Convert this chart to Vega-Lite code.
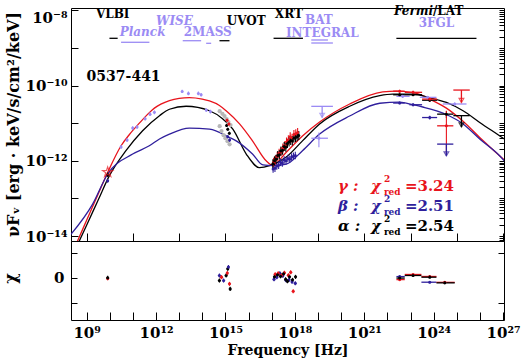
{
  "$schema": "https://vega.github.io/schema/vega-lite/v6.json",
  "padding": {"left": 1, "top": 4, "right": 2, "bottom": 1},
  "background": "white",
  "spacing": 0,
  "bounds": "flush",
  "config": {
    "view": {"stroke": "black", "strokeWidth": 1},
    "font": "DejaVu Serif",
    "axis": {"domain": false, "grid": false, "tickColor": "black", "labelColor": "black", "titleColor": "black", "labelFont": "DejaVu Serif", "labelFontWeight": "bold", "titleFont": "DejaVu Serif", "titleFontWeight": "bold", "labelFontSize": 15, "titleFontSize": 14, "tickWidth": 1, "labelOverlap": false}
  },
  "datasets": {
    "curves": [
      {"model":"gamma","lognu":8.55,"logflux":-14.21},{"model":"gamma","lognu":9.0,"logflux":-13.58},{"model":"gamma","lognu":9.5,"logflux":-12.88},{"model":"gamma","lognu":9.91,"logflux":-12.31},{"model":"gamma","lognu":10.49,"logflux":-11.60},{"model":"gamma","lognu":10.85,"logflux":-11.30},{"model":"gamma","lognu":11.28,"logflux":-11.00},{"model":"gamma","lognu":11.71,"logflux":-10.72},{"model":"gamma","lognu":11.93,"logflux":-10.60},{"model":"gamma","lognu":12.58,"logflux":-10.40},{"model":"gamma","lognu":13.0,"logflux":-10.34},{"model":"gamma","lognu":13.44,"logflux":-10.32},{"model":"gamma","lognu":14.0,"logflux":-10.36},{"model":"gamma","lognu":14.31,"logflux":-10.41},{"model":"gamma","lognu":14.74,"logflux":-10.53},{"model":"gamma","lognu":15.03,"logflux":-10.67},{"model":"gamma","lognu":15.61,"logflux":-11.02},{"model":"gamma","lognu":16.17,"logflux":-11.47},{"model":"gamma","lognu":16.76,"logflux":-12.00},{"model":"gamma","lognu":17.04,"logflux":-12.12},{"model":"gamma","lognu":17.63,"logflux":-11.77},{"model":"gamma","lognu":18.33,"logflux":-11.34},{"model":"gamma","lognu":19.07,"logflux":-10.97},{"model":"gamma","lognu":20.37,"logflux":-10.49},{"model":"gamma","lognu":21.80,"logflux":-10.17},{"model":"gamma","lognu":22.40,"logflux":-10.15},{"model":"gamma","lognu":23.11,"logflux":-10.19},{"model":"gamma","lognu":23.5,"logflux":-10.26},{"model":"gamma","lognu":23.83,"logflux":-10.36},{"model":"gamma","lognu":24.55,"logflux":-10.60},{"model":"gamma","lognu":25.27,"logflux":-10.95},{"model":"gamma","lognu":25.99,"logflux":-11.38},{"model":"gamma","lognu":26.86,"logflux":-11.87},{"model":"gamma","lognu":27.1,"logflux":-12.0},
      {"model":"alpha","lognu":8.60,"logflux":-14.24},{"model":"alpha","lognu":9.0,"logflux":-13.71},{"model":"alpha","lognu":9.5,"logflux":-13.04},{"model":"alpha","lognu":9.98,"logflux":-12.40},{"model":"alpha","lognu":10.70,"logflux":-11.73},{"model":"alpha","lognu":11.42,"logflux":-11.20},{"model":"alpha","lognu":12.15,"logflux":-10.80},{"model":"alpha","lognu":12.58,"logflux":-10.63},{"model":"alpha","lognu":13.30,"logflux":-10.55},{"model":"alpha","lognu":14.31,"logflux":-10.67},{"model":"alpha","lognu":14.89,"logflux":-10.89},{"model":"alpha","lognu":15.32,"logflux":-11.16},{"model":"alpha","lognu":15.90,"logflux":-11.82},{"model":"alpha","lognu":16.47,"logflux":-12.18},{"model":"alpha","lognu":16.91,"logflux":-12.13},{"model":"alpha","lognu":17.63,"logflux":-11.90},{"model":"alpha","lognu":18.33,"logflux":-11.47},{"model":"alpha","lognu":19.07,"logflux":-11.02},{"model":"alpha","lognu":20.37,"logflux":-10.55},{"model":"alpha","lognu":21.67,"logflux":-10.27},{"model":"alpha","lognu":22.23,"logflux":-10.23},{"model":"alpha","lognu":23.11,"logflux":-10.23},{"model":"alpha","lognu":23.8,"logflux":-10.32},{"model":"alpha","lognu":24.55,"logflux":-10.45},{"model":"alpha","lognu":25.27,"logflux":-10.67},{"model":"alpha","lognu":25.99,"logflux":-10.98},{"model":"alpha","lognu":26.86,"logflux":-11.34},{"model":"alpha","lognu":27.1,"logflux":-11.44},
      {"model":"beta","lognu":8.30,"logflux":-13.97},{"model":"beta","lognu":9.26,"logflux":-13.15},{"model":"beta","lognu":9.91,"logflux":-12.35},{"model":"beta","lognu":10.99,"logflux":-11.82},{"model":"beta","lognu":11.71,"logflux":-11.60},{"model":"beta","lognu":12.15,"logflux":-11.42},{"model":"beta","lognu":12.58,"logflux":-11.29},{"model":"beta","lognu":13.44,"logflux":-11.13},{"model":"beta","lognu":14.31,"logflux":-11.16},{"model":"beta","lognu":15.175,"logflux":-11.38},{"model":"beta","lognu":15.465,"logflux":-11.47},{"model":"beta","lognu":16.17,"logflux":-11.82},{"model":"beta","lognu":16.62,"logflux":-12.11},{"model":"beta","lognu":17.04,"logflux":-12.13},{"model":"beta","lognu":17.63,"logflux":-12.09},{"model":"beta","lognu":18.33,"logflux":-11.73},{"model":"beta","lognu":19.07,"logflux":-11.29},{"model":"beta","lognu":20.37,"logflux":-10.81},{"model":"beta","lognu":21.67,"logflux":-10.47},{"model":"beta","lognu":22.53,"logflux":-10.44},{"model":"beta","lognu":23.11,"logflux":-10.51},{"model":"beta","lognu":23.53,"logflux":-10.57},{"model":"beta","lognu":24.55,"logflux":-10.77},{"model":"beta","lognu":25.27,"logflux":-11.02},{"model":"beta","lognu":25.99,"logflux":-11.42},{"model":"beta","lognu":26.86,"logflux":-11.87},{"model":"beta","lognu":27.1,"logflux":-12.03}
    ],
    "sed": [
      {"src":"gamma","kind":"star","x":9.91,"y":-12.30},
      {"src":"alpha","kind":"pt","x":9.91,"y":-12.37,"ylo":-12.43,"yhi":-12.31},
      {"src":"beta","kind":"pt","x":9.91,"y":-12.53,"ylo":-12.58,"yhi":-12.48},
      {"src":"arch","kind":"pt","x":10.49,"y":-11.63,"ylo":-11.68,"yhi":-11.58},
      {"src":"arch","kind":"pt","x":10.75,"y":-11.45,"ylo":-11.50,"yhi":-11.40},
      {"src":"arch","kind":"pt","x":10.99,"y":-11.13,"ylo":-11.18,"yhi":-11.08},
      {"src":"arch","kind":"pt","x":11.18,"y":-11.10,"ylo":-11.15,"yhi":-11.05},
      {"src":"arch","kind":"pt","x":11.53,"y":-10.88,"ylo":-10.93,"yhi":-10.83},
      {"src":"arch","kind":"pt","x":11.74,"y":-10.76,"ylo":-10.81,"yhi":-10.71},
      {"src":"arch","kind":"pt","x":11.93,"y":-10.71,"ylo":-10.76,"yhi":-10.66},
      {"src":"arch","kind":"pt","x":13.13,"y":-10.155,"ylo":-10.20,"yhi":-10.11},
      {"src":"arch","kind":"pt","x":13.40,"y":-10.21,"ylo":-10.26,"yhi":-10.16},
      {"src":"arch","kind":"pt","x":13.83,"y":-10.21,"ylo":-10.26,"yhi":-10.16},
      {"src":"arch","kind":"pt","x":13.95,"y":-10.245,"ylo":-10.29,"yhi":-10.20},
      {"src":"arch","kind":"pt","x":14.17,"y":-10.65,"ylo":-10.70,"yhi":-10.60},
      {"src":"arch","kind":"pt","x":14.35,"y":-10.69,"ylo":-10.74,"yhi":-10.64},
      {"src":"grey","kind":"pt","x":14.75,"y":-10.68},{"src":"grey","kind":"pt","x":14.87,"y":-10.75},{"src":"grey","kind":"pt","x":14.96,"y":-10.81},{"src":"grey","kind":"pt","x":15.05,"y":-10.89},{"src":"grey","kind":"pt","x":15.13,"y":-10.97},{"src":"grey","kind":"pt","x":15.22,"y":-11.05},
      {"src":"grey","kind":"pt","x":14.75,"y":-11.08},{"src":"grey","kind":"pt","x":14.83,"y":-11.21},{"src":"grey","kind":"pt","x":14.92,"y":-11.32},{"src":"grey","kind":"pt","x":15.00,"y":-11.40},{"src":"grey","kind":"pt","x":15.09,"y":-11.48},{"src":"grey","kind":"pt","x":15.18,"y":-11.56},
      {"src":"alpha","kind":"pt","x":15.05,"y":-11.06,"ylo":-11.10,"yhi":-11.02},
      {"src":"alpha","kind":"pt","x":15.10,"y":-11.16,"ylo":-11.20,"yhi":-11.12},
      {"src":"alpha","kind":"pt","x":15.17,"y":-11.27,"ylo":-11.31,"yhi":-11.23},
      {"src":"gamma","kind":"pt","x":15.07,"y":-10.92,"ylo":-10.96,"yhi":-10.88},
      {"src":"gamma","kind":"pt","x":15.15,"y":-11.02,"ylo":-11.06,"yhi":-10.98},
      {"src":"beta","kind":"pt","x":15.10,"y":-11.36,"ylo":-11.40,"yhi":-11.32},
      {"src":"beta","kind":"pt","x":15.18,"y":-11.45,"ylo":-11.49,"yhi":-11.41},
      {"src":"beta","kind":"pt","x":17.06,"y":-12.22,"ylo":-12.32,"yhi":-12.12},
      {"src":"beta","kind":"pt","x":17.14,"y":-12.20,"ylo":-12.30,"yhi":-12.10},
      {"src":"beta","kind":"pt","x":17.22,"y":-12.14,"ylo":-12.24,"yhi":-12.04},
      {"src":"beta","kind":"pt","x":17.30,"y":-12.12,"ylo":-12.22,"yhi":-12.02},
      {"src":"beta","kind":"pt","x":17.38,"y":-12.04,"ylo":-12.14,"yhi":-11.94},
      {"src":"beta","kind":"pt","x":17.46,"y":-12.06,"ylo":-12.16,"yhi":-11.96},
      {"src":"beta","kind":"pt","x":17.54,"y":-11.98,"ylo":-12.08,"yhi":-11.88},
      {"src":"beta","kind":"pt","x":17.62,"y":-12.00,"ylo":-12.10,"yhi":-11.90},
      {"src":"beta","kind":"pt","x":17.70,"y":-11.94,"ylo":-12.04,"yhi":-11.84},
      {"src":"beta","kind":"pt","x":17.78,"y":-11.96,"ylo":-12.06,"yhi":-11.86},
      {"src":"beta","kind":"pt","x":17.86,"y":-11.90,"ylo":-12.00,"yhi":-11.80},
      {"src":"beta","kind":"pt","x":17.94,"y":-11.88,"ylo":-11.98,"yhi":-11.78},
      {"src":"beta","kind":"pt","x":18.02,"y":-11.86,"ylo":-11.96,"yhi":-11.76},
      {"src":"gamma","kind":"pt","x":17.08,"y":-12.04,"ylo":-12.16,"yhi":-11.92},
      {"src":"gamma","kind":"pt","x":17.16,"y":-11.97,"ylo":-12.09,"yhi":-11.85},
      {"src":"gamma","kind":"pt","x":17.24,"y":-11.88,"ylo":-12.00,"yhi":-11.76},
      {"src":"gamma","kind":"pt","x":17.32,"y":-11.80,"ylo":-11.92,"yhi":-11.68},
      {"src":"gamma","kind":"pt","x":17.40,"y":-11.76,"ylo":-11.88,"yhi":-11.64},
      {"src":"gamma","kind":"pt","x":17.48,"y":-11.66,"ylo":-11.78,"yhi":-11.54},
      {"src":"gamma","kind":"pt","x":17.56,"y":-11.60,"ylo":-11.72,"yhi":-11.48},
      {"src":"gamma","kind":"pt","x":17.64,"y":-11.50,"ylo":-11.62,"yhi":-11.38},
      {"src":"gamma","kind":"pt","x":17.72,"y":-11.44,"ylo":-11.56,"yhi":-11.32},
      {"src":"gamma","kind":"pt","x":17.80,"y":-11.36,"ylo":-11.48,"yhi":-11.24},
      {"src":"gamma","kind":"pt","x":17.88,"y":-11.40,"ylo":-11.52,"yhi":-11.28},
      {"src":"gamma","kind":"pt","x":17.96,"y":-11.30,"ylo":-11.42,"yhi":-11.18},
      {"src":"gamma","kind":"pt","x":18.04,"y":-11.28,"ylo":-11.40,"yhi":-11.16},
      {"src":"gamma","kind":"pt","x":18.12,"y":-11.25,"ylo":-11.37,"yhi":-11.13},
      {"src":"alpha","kind":"pt","x":17.05,"y":-12.08,"ylo":-12.20,"yhi":-11.96},
      {"src":"alpha","kind":"pt","x":17.12,"y":-12.00,"ylo":-12.12,"yhi":-11.88},
      {"src":"alpha","kind":"pt","x":17.19,"y":-11.96,"ylo":-12.08,"yhi":-11.84},
      {"src":"alpha","kind":"pt","x":17.26,"y":-11.86,"ylo":-11.98,"yhi":-11.74},
      {"src":"alpha","kind":"pt","x":17.33,"y":-11.84,"ylo":-11.96,"yhi":-11.72},
      {"src":"alpha","kind":"pt","x":17.40,"y":-11.74,"ylo":-11.86,"yhi":-11.62},
      {"src":"alpha","kind":"pt","x":17.47,"y":-11.72,"ylo":-11.84,"yhi":-11.60},
      {"src":"alpha","kind":"pt","x":17.54,"y":-11.62,"ylo":-11.74,"yhi":-11.50},
      {"src":"alpha","kind":"pt","x":17.61,"y":-11.64,"ylo":-11.76,"yhi":-11.52},
      {"src":"alpha","kind":"pt","x":17.68,"y":-11.54,"ylo":-11.66,"yhi":-11.42},
      {"src":"alpha","kind":"pt","x":17.75,"y":-11.50,"ylo":-11.62,"yhi":-11.38},
      {"src":"alpha","kind":"pt","x":17.82,"y":-11.46,"ylo":-11.58,"yhi":-11.34},
      {"src":"alpha","kind":"pt","x":17.89,"y":-11.47,"ylo":-11.59,"yhi":-11.35},
      {"src":"alpha","kind":"pt","x":17.96,"y":-11.40,"ylo":-11.52,"yhi":-11.28},
      {"src":"alpha","kind":"pt","x":18.03,"y":-11.38,"ylo":-11.50,"yhi":-11.26},
      {"src":"alpha","kind":"pt","x":18.10,"y":-11.36,"ylo":-11.48,"yhi":-11.24},
      {"src":"alpha","kind":"pt","x":18.17,"y":-11.33,"ylo":-11.45,"yhi":-11.21},
      {"src":"arch","kind":"ul","x":19.18,"xlo":18.71,"xhi":19.645,"y":-10.553,"yend":-10.846},
      {"src":"arch","kind":"pt","x":19.04,"xlo":18.71,"xhi":19.43,"y":-11.40,"ylo":-11.64,"yhi":-11.245},
      {"src":"arch","kind":"pt","x":22.66,"xlo":22.39,"xhi":22.96,"y":-10.287,"ylo":-10.33,"yhi":-10.25},
      {"src":"arch","kind":"pt","x":23.74,"xlo":23.4,"xhi":24.12,"y":-10.314,"ylo":-10.35,"yhi":-10.28},
      {"src":"arch","kind":"pt","x":24.91,"xlo":24.39,"xhi":25.42,"y":-10.49,"ylo":-10.53,"yhi":-10.45},
      {"src":"beta","kind":"pt","x":22.53,"xlo":22.25,"xhi":22.75,"y":-10.465,"ylo":-10.50,"yhi":-10.43},
      {"src":"beta","kind":"pt","x":23.11,"xlo":22.95,"xhi":23.5,"y":-10.51,"ylo":-10.55,"yhi":-10.47},
      {"src":"beta","kind":"pt","x":23.83,"xlo":23.5,"xhi":24.15,"y":-10.85,"ylo":-10.90,"yhi":-10.80},
      {"src":"beta","kind":"ul","x":24.55,"xlo":24.15,"xhi":24.85,"y":-11.556,"yend":-11.867},
      {"src":"alpha","kind":"pt","x":22.53,"xlo":22.25,"xhi":22.75,"y":-10.245,"ylo":-10.28,"yhi":-10.21},
      {"src":"alpha","kind":"pt","x":23.11,"xlo":22.75,"xhi":23.5,"y":-10.245,"ylo":-10.28,"yhi":-10.21},
      {"src":"alpha","kind":"pt","x":23.83,"xlo":23.5,"xhi":24.15,"y":-10.39,"ylo":-10.43,"yhi":-10.35},
      {"src":"alpha","kind":"pt","x":24.55,"xlo":24.15,"xhi":24.85,"y":-10.76,"ylo":-10.86,"yhi":-10.68},
      {"src":"alpha","kind":"ul","x":25.2,"xlo":24.85,"xhi":25.56,"y":-10.80,"yend":-11.10},
      {"src":"gamma","kind":"pt","x":22.53,"xlo":22.25,"xhi":22.75,"y":-10.15,"ylo":-10.19,"yhi":-10.11},
      {"src":"gamma","kind":"pt","x":23.11,"xlo":22.75,"xhi":23.5,"y":-10.18,"ylo":-10.22,"yhi":-10.14},
      {"src":"gamma","kind":"pt","x":23.83,"xlo":23.5,"xhi":24.15,"y":-10.36,"ylo":-10.40,"yhi":-10.32},
      {"src":"gamma","kind":"pt","x":24.55,"xlo":24.15,"xhi":24.85,"y":-11.07,"ylo":-11.82,"yhi":-10.67},
      {"src":"gamma","kind":"ul","x":25.2,"xlo":24.85,"xhi":25.56,"y":-10.12,"yend":-10.45}
    ],
    "bands": [
      {"inst":"VLBI","lo":9.987,"hi":10.341,"y":-8.745,"src":"alpha"},
      {"inst":"Planck","lo":10.489,"hi":11.713,"y":-8.851,"src":"arch"},
      {"inst":"WISE","lo":13.154,"hi":13.95,"y":-8.809,"src":"arch"},
      {"inst":"2MASS","lo":14.167,"hi":14.383,"y":-8.878,"src":"arch"},
      {"inst":"UVOT","lo":14.742,"hi":15.175,"y":-8.809,"src":"alpha"},
      {"inst":"XRT","lo":17.08,"hi":18.35,"y":-8.745,"src":"alpha"},
      {"inst":"BAT","lo":18.71,"hi":19.43,"y":-8.79,"src":"arch"},
      {"inst":"INTEGRAL","lo":18.71,"hi":19.645,"y":-8.87,"src":"arch"},
      {"inst":"Fermi/LAT","lo":22.388,"hi":25.85,"y":-8.745,"src":"alpha"}
    ],
    "labels": [
      {"text":"VLBI","x":10.125,"y":-8.098,"src":"alpha","kind":"n"},
      {"text":"Planck","x":11.42,"y":-8.585,"src":"arch","kind":"i"},
      {"text":"WISE","x":12.795,"y":-8.293,"src":"arch","kind":"i"},
      {"text":"2MASS","x":14.236,"y":-8.585,"src":"arch","kind":"n"},
      {"text":"UVOT","x":15.897,"y":-8.293,"src":"alpha","kind":"n"},
      {"text":"XRT","x":17.74,"y":-8.098,"src":"alpha","kind":"n"},
      {"text":"BAT","x":19.04,"y":-8.27,"src":"arch","kind":"n"},
      {"text":"INTEGRAL","x":19.186,"y":-8.61,"src":"arch","kind":"n"},
      {"text":"Fermi","x":23.97,"y":-8.02,"src":"alpha","kind":"ir"},
      {"text":"/LAT","x":23.97,"y":-8.02,"src":"alpha","kind":"nl"},
      {"text":"3FGL","x":24.12,"y":-8.35,"src":"arch","kind":"n"},
      {"text":"0537-441","x":9.0,"y":-9.766,"src":"alpha","kind":"name"}
    ],
    "legend": [
      {"model":"gamma","x":19.86,"y":-12.673,"greek":"γ :","val":"=3.24"},
      {"model":"beta","x":19.86,"y":-13.19,"greek":"β :","val":"=2.51"},
      {"model":"alpha","x":19.86,"y":-13.72,"greek":"α :","val":"=2.54"}
    ],
    "res": [
      {"src":"gamma","x":9.91,"chi":-0.15,"elo":-0.5,"ehi":0.2},
      {"src":"alpha","x":9.91,"chi":0.0,"elo":-0.4,"ehi":0.4},
      {"src":"beta","x":14.74,"chi":0.46,"elo":0.06,"ehi":0.86},
      {"src":"alpha","x":14.74,"chi":-0.54,"elo":-0.94,"ehi":-0.14},
      {"src":"gamma","x":14.83,"chi":0.14,"elo":-0.26,"ehi":0.54},
      {"src":"beta","x":14.92,"chi":-0.54,"elo":-0.94,"ehi":-0.14},
      {"src":"alpha","x":15.03,"chi":0.46,"elo":0.06,"ehi":0.86},
      {"src":"gamma","x":15.08,"chi":0.94,"elo":0.54,"ehi":1.34},
      {"src":"alpha","x":15.10,"chi":1.8,"elo":1.4,"ehi":2.2},
      {"src":"beta","x":15.13,"chi":2.14,"elo":1.74,"ehi":2.54},
      {"src":"gamma","x":15.175,"chi":-1.2,"elo":-1.6,"ehi":-0.8},
      {"src":"alpha","x":15.205,"chi":-2.2,"elo":-2.6,"ehi":-1.8},
      {"src":"beta","x":17.10,"chi":-0.3,"elo":-0.7,"ehi":0.1},
      {"src":"beta","x":17.22,"chi":0.1,"elo":-0.3,"ehi":0.5},
      {"src":"beta","x":17.35,"chi":0.9,"elo":0.5,"ehi":1.3},
      {"src":"beta","x":17.48,"chi":0.4,"elo":0.0,"ehi":0.8},
      {"src":"beta","x":17.62,"chi":-0.5,"elo":-0.9,"ehi":-0.1},
      {"src":"beta","x":17.75,"chi":-0.4,"elo":-0.8,"ehi":0.0},
      {"src":"beta","x":17.88,"chi":-0.8,"elo":-1.2,"ehi":-0.4},
      {"src":"beta","x":18.02,"chi":-1.1,"elo":-1.5,"ehi":-0.7},
      {"src":"gamma","x":17.15,"chi":0.7,"elo":0.3,"ehi":1.1},
      {"src":"gamma","x":17.28,"chi":0.9,"elo":0.5,"ehi":1.3},
      {"src":"gamma","x":17.42,"chi":0.5,"elo":0.1,"ehi":0.9},
      {"src":"gamma","x":17.55,"chi":1.0,"elo":0.6,"ehi":1.4},
      {"src":"gamma","x":17.72,"chi":0.5,"elo":0.1,"ehi":0.9},
      {"src":"gamma","x":17.82,"chi":1.1,"elo":0.7,"ehi":1.5},
      {"src":"gamma","x":17.93,"chi":-2.67,"elo":-3.07,"ehi":-2.27},
      {"src":"alpha","x":17.12,"chi":0.2,"elo":-0.2,"ehi":0.6},
      {"src":"alpha","x":17.25,"chi":0.6,"elo":0.2,"ehi":1.0},
      {"src":"alpha","x":17.38,"chi":0.3,"elo":-0.1,"ehi":0.7},
      {"src":"alpha","x":17.51,"chi":0.8,"elo":0.4,"ehi":1.2},
      {"src":"alpha","x":17.60,"chi":-0.3,"elo":-0.7,"ehi":0.1},
      {"src":"alpha","x":17.68,"chi":-0.7,"elo":-1.1,"ehi":-0.3},
      {"src":"alpha","x":17.77,"chi":0.2,"elo":-0.2,"ehi":0.6},
      {"src":"alpha","x":17.90,"chi":-0.4,"elo":-0.8,"ehi":0.0},
      {"src":"alpha","x":18.03,"chi":0.2,"elo":-0.2,"ehi":0.6},
      {"src":"beta","x":22.53,"xlo":22.39,"xhi":22.75,"chi":0.25,"elo":0.05,"ehi":0.45},
      {"src":"gamma","x":22.53,"xlo":22.39,"xhi":22.75,"chi":-0.35,"elo":-0.55,"ehi":-0.15},
      {"src":"alpha","x":22.53,"xlo":22.39,"xhi":22.75,"chi":-0.05,"elo":-0.25,"ehi":0.15},
      {"src":"gamma","x":23.11,"xlo":22.75,"xhi":23.47,"chi":0.67,"elo":0.47,"ehi":0.87},
      {"src":"alpha","x":23.11,"xlo":22.75,"xhi":23.47,"chi":0.47,"elo":0.27,"ehi":0.67},
      {"src":"beta","x":23.83,"xlo":23.47,"xhi":24.12,"chi":-0.87,"elo":-1.07,"ehi":-0.67},
      {"src":"gamma","x":23.83,"xlo":23.47,"xhi":24.12,"chi":0.27,"elo":0.07,"ehi":0.47},
      {"src":"alpha","x":23.83,"xlo":23.47,"xhi":24.12,"chi":0.13,"elo":-0.07,"ehi":0.33},
      {"src":"gamma","x":24.48,"xlo":24.12,"xhi":24.91,"chi":-0.9,"elo":-1.1,"ehi":-0.7},
      {"src":"alpha","x":24.48,"xlo":24.12,"xhi":24.91,"chi":-1.0,"elo":-1.2,"ehi":-0.8}
    ]
  },
  "vconcat": [
    {
      "width": 433,
      "height": 233,
      "resolve": {"axis": {"y": "independent"}},
      "layer": [
        {
          "data": {"name": "curves"},
          "mark": {"type": "line", "clip": true, "strokeWidth": 1.3, "interpolate": "monotone"},
          "encoding": {
            "x": {"field": "lognu", "type": "quantitative", "scale": {"domain": [8.325, 27.04], "nice": false, "zero": false},
                  "axis": {"orient": "bottom", "values": [9,10,11,12,13,14,15,16,17,18,19,20,21,22,23,24,25,26,27], "labels": false, "tickSize": -8, "title": null}},
            "y": {"field": "logflux", "type": "quantitative", "scale": {"domain": [-14.13, -7.94], "nice": false, "zero": false},
                  "axis": {"orient": "left", "values": [-14,-13,-12,-11,-10,-9,-8], "tickSize": -7, "labelPadding": 11, "labelFlush": 3, "labelOverlap": false,
                           "labelExpr": "datum.value == -8 ? '10⁻⁸' : datum.value == -10 ? '10⁻¹⁰' : datum.value == -12 ? '10⁻¹²' : datum.value == -14 ? '10⁻¹⁴' : ''",
                           "title": "νFᵥ [erg · keV/s/cm²/keV]", "titleX": -52.5, "titleY": 116, "titleAngle": -90, "titleBaseline": "alphabetic", "titleAlign": "center", "titleFontSize": 16}},
            "color": {"field": "model", "type": "nominal", "scale": {"domain": ["alpha","beta","gamma","arch","grey"], "range": ["#000000","#2f1f9c","#e8141c","#9b8bf4","#b8b8b8"]}, "legend": null},
            "order": {"field": "lognu", "type": "quantitative"}
          }
        },
        {
          "data": {"name": "bands"},
          "mark": {"type": "rule", "strokeWidth": 1.3},
          "encoding": {
            "x": {"field": "lo", "type": "quantitative"},
            "x2": {"field": "hi"},
            "y": {"field": "y", "type": "quantitative",
                  "axis": {"orient": "right", "labels": false, "title": null, "tickSize": -5,
                           "values": [-14.097,-14.046,-14,-13.699,-13.523,-13.398,-13.301,-13.222,-13.155,-13.097,-13.046,-13,-12.699,-12.523,-12.398,-12.301,-12.222,-12.155,-12.097,-12.046,-12,-11.699,-11.523,-11.398,-11.301,-11.222,-11.155,-11.097,-11.046,-11,-10.699,-10.523,-10.398,-10.301,-10.222,-10.155,-10.097,-10.046,-10,-9.699,-9.523,-9.398,-9.301,-9.222,-9.155,-9.097,-9.046,-9,-8.699,-8.523,-8.398,-8.301,-8.222,-8.155,-8.097,-8.046,-8]}},
            "color": {"field": "src", "type": "nominal"}
          }
        },
        {
          "data": {"name": "sed"},
          "transform": [{"filter": "datum.src == 'grey'"}],
          "mark": {"type": "circle", "size": 18, "opacity": 1},
          "encoding": {
            "x": {"field": "x", "type": "quantitative"},
            "y": {"field": "y", "type": "quantitative", "axis": null},
            "color": {"field": "src", "type": "nominal"}
          }
        },
        {
          "data": {"name": "sed"},
          "transform": [{"filter": "isValid(datum.ylo)"}],
          "mark": {"type": "rule", "strokeWidth": 1.1},
          "encoding": {
            "x": {"field": "x", "type": "quantitative"},
            "y": {"field": "ylo", "type": "quantitative", "axis": null},
            "y2": {"field": "yhi"},
            "color": {"field": "src", "type": "nominal"}
          }
        },
        {
          "data": {"name": "sed"},
          "transform": [{"filter": "isValid(datum.xlo)"}],
          "mark": {"type": "rule", "strokeWidth": 1.3},
          "encoding": {
            "x": {"field": "xlo", "type": "quantitative"},
            "x2": {"field": "xhi"},
            "y": {"field": "y", "type": "quantitative", "axis": null},
            "color": {"field": "src", "type": "nominal"}
          }
        },
        {
          "data": {"name": "sed"},
          "transform": [{"filter": "datum.kind == 'pt' && datum.src != 'grey'"}],
          "mark": {"type": "circle", "size": 9, "opacity": 1},
          "encoding": {
            "x": {"field": "x", "type": "quantitative"},
            "y": {"field": "y", "type": "quantitative", "axis": null},
            "color": {"field": "src", "type": "nominal"}
          }
        },
        {
          "data": {"name": "sed"},
          "transform": [{"filter": "datum.kind == 'ul'"}],
          "mark": {"type": "rule", "strokeWidth": 1.3},
          "encoding": {
            "x": {"field": "x", "type": "quantitative"},
            "y": {"field": "y", "type": "quantitative", "axis": null},
            "y2": {"field": "yend"},
            "color": {"field": "src", "type": "nominal"}
          }
        },
        {
          "data": {"name": "sed"},
          "transform": [{"filter": "datum.kind == 'ul'"}],
          "mark": {"type": "point", "shape": "triangle-down", "size": 22, "filled": false, "strokeWidth": 1.2, "yOffset": -2},
          "encoding": {
            "x": {"field": "x", "type": "quantitative"},
            "y": {"field": "yend", "type": "quantitative", "axis": null},
            "color": {"field": "src", "type": "nominal"}
          }
        },
        {
          "data": {"name": "sed"},
          "transform": [{"filter": "datum.kind == 'star'"}],
          "mark": {"type": "point", "shape": "M0,-1L0.2245,-0.309L0.951,-0.309L0.363,0.118L0.588,0.809L0,0.382L-0.588,0.809L-0.363,0.118L-0.951,-0.309L-0.2245,-0.309Z", "size": 110, "filled": false, "strokeWidth": 1.2},
          "encoding": {
            "x": {"field": "x", "type": "quantitative"},
            "y": {"field": "y", "type": "quantitative", "axis": null},
            "color": {"field": "src", "type": "nominal"}
          }
        },
        {
          "data": {"name": "labels"},
          "transform": [{"filter": "datum.kind == 'n'"}],
          "mark": {"type": "text", "font": "DejaVu Serif", "fontWeight": "bold", "fontSize": 12, "align": "center", "baseline": "middle"},
          "encoding": {
            "x": {"field": "x", "type": "quantitative"},
            "y": {"field": "y", "type": "quantitative", "axis": null},
            "text": {"field": "text"},
            "color": {"field": "src", "type": "nominal"}
          }
        },
        {
          "data": {"name": "labels"},
          "transform": [{"filter": "datum.kind == 'i'"}],
          "mark": {"type": "text", "font": "DejaVu Serif", "fontWeight": "bold", "fontStyle": "italic", "fontSize": 12, "align": "center", "baseline": "middle"},
          "encoding": {
            "x": {"field": "x", "type": "quantitative"},
            "y": {"field": "y", "type": "quantitative", "axis": null},
            "text": {"field": "text"},
            "color": {"field": "src", "type": "nominal"}
          }
        },
        {
          "data": {"name": "labels"},
          "transform": [{"filter": "datum.kind == 'ir'"}],
          "mark": {"type": "text", "font": "DejaVu Serif", "fontWeight": "bold", "fontStyle": "italic", "fontSize": 12, "align": "right", "baseline": "middle"},
          "encoding": {
            "x": {"field": "x", "type": "quantitative"},
            "y": {"field": "y", "type": "quantitative", "axis": null},
            "text": {"field": "text"},
            "color": {"field": "src", "type": "nominal"}
          }
        },
        {
          "data": {"name": "labels"},
          "transform": [{"filter": "datum.kind == 'nl'"}],
          "mark": {"type": "text", "font": "DejaVu Serif", "fontWeight": "bold", "fontSize": 12, "align": "left", "baseline": "middle"},
          "encoding": {
            "x": {"field": "x", "type": "quantitative"},
            "y": {"field": "y", "type": "quantitative", "axis": null},
            "text": {"field": "text"},
            "color": {"field": "src", "type": "nominal"}
          }
        },
        {
          "data": {"name": "labels"},
          "transform": [{"filter": "datum.kind == 'name'"}],
          "mark": {"type": "text", "font": "DejaVu Serif", "fontWeight": "bold", "fontSize": 14, "align": "left", "baseline": "middle"},
          "encoding": {
            "x": {"field": "x", "type": "quantitative"},
            "y": {"field": "y", "type": "quantitative", "axis": null},
            "text": {"field": "text"},
            "color": {"field": "src", "type": "nominal"}
          }
        },
        {
          "data": {"name": "legend"},
          "mark": {"type": "text", "font": "DejaVu Serif", "fontWeight": "bold", "fontStyle": "italic", "fontSize": 15, "align": "left", "baseline": "middle"},
          "encoding": {
            "x": {"field": "x", "type": "quantitative"},
            "y": {"field": "y", "type": "quantitative", "axis": null},
            "text": {"field": "greek"},
            "color": {"field": "model", "type": "nominal"}
          }
        },
        {
          "data": {"name": "legend"},
          "mark": {"type": "text", "text": "χ", "dx": 33, "font": "DejaVu Serif", "fontWeight": "bold", "fontStyle": "italic", "fontSize": 15, "align": "left", "baseline": "middle"},
          "encoding": {
            "x": {"field": "x", "type": "quantitative"},
            "y": {"field": "y", "type": "quantitative", "axis": null},
            "color": {"field": "model", "type": "nominal"}
          }
        },
        {
          "data": {"name": "legend"},
          "mark": {"type": "text", "text": "2", "dx": 46, "dy": -7, "font": "DejaVu Serif", "fontWeight": "bold", "fontSize": 9, "align": "left", "baseline": "middle"},
          "encoding": {
            "x": {"field": "x", "type": "quantitative"},
            "y": {"field": "y", "type": "quantitative", "axis": null},
            "color": {"field": "model", "type": "nominal"}
          }
        },
        {
          "data": {"name": "legend"},
          "mark": {"type": "text", "text": "red", "dx": 46, "dy": 6, "font": "DejaVu Serif", "fontWeight": "bold", "fontSize": 9, "align": "left", "baseline": "middle"},
          "encoding": {
            "x": {"field": "x", "type": "quantitative"},
            "y": {"field": "y", "type": "quantitative", "axis": null},
            "color": {"field": "model", "type": "nominal"}
          }
        },
        {
          "data": {"name": "legend"},
          "mark": {"type": "text", "dx": 67, "font": "DejaVu Serif", "fontWeight": "bold", "fontSize": 15, "align": "left", "baseline": "middle"},
          "encoding": {
            "x": {"field": "x", "type": "quantitative"},
            "y": {"field": "y", "type": "quantitative", "axis": null},
            "text": {"field": "val"},
            "color": {"field": "model", "type": "nominal"}
          }
        }
      ]
    },
    {
      "width": 433,
      "height": 79,
      "resolve": {"axis": {"x": "independent", "y": "independent"}},
      "layer": [
        {
          "data": {"name": "res"},
          "mark": {"type": "rule", "strokeWidth": 1.1},
          "encoding": {
            "x": {"field": "x", "type": "quantitative", "scale": {"domain": [8.325, 27.04], "nice": false, "zero": false},
                  "axis": {"orient": "bottom", "values": [9,12,15,18,21,24,27], "tickSize": -8, "labelPadding": 13, "labelFlush": false, "labelOverlap": false,
                           "labelExpr": "datum.value == 9 ? '10⁹' : datum.value == 12 ? '10¹²' : datum.value == 15 ? '10¹⁵' : datum.value == 18 ? '10¹⁸' : datum.value == 21 ? '10²¹' : datum.value == 24 ? '10²⁴' : datum.value == 27 ? '10²⁷' : ''",
                           "title": "Frequency [Hz]", "titlePadding": 3, "titleFontSize": 14}},
            "y": {"field": "elo", "type": "quantitative", "scale": {"domain": [-8.4, 7.34], "nice": false, "zero": false},
                  "axis": {"orient": "left", "values": [-5, 0, 5], "tickSize": -6, "labelPadding": 13, "labelOverlap": false, "labelExpr": "datum.value == 0 ? '0' : ''",
                           "title": "χ", "titleX": -61, "titleY": 37, "titleAngle": -90, "titleBaseline": "middle", "titleAlign": "center", "titleFontSize": 16}},
            "y2": {"field": "ehi"},
            "color": {"field": "src", "type": "nominal", "scale": {"domain": ["alpha","beta","gamma","arch","grey"], "range": ["#000000","#2f1f9c","#e8141c","#9b8bf4","#b8b8b8"]}, "legend": null}
          }
        },
        {
          "mark": {"type": "rule", "color": "#b0b0b0", "strokeWidth": 1},
          "encoding": {
            "y": {"datum": 0, "type": "quantitative",
                  "axis": {"orient": "right", "values": [-5, 5], "tickSize": -6, "labels": false, "title": null}}
          }
        },
        {
          "data": {"name": "res"},
          "transform": [{"filter": "isValid(datum.xlo)"}],
          "mark": {"type": "rule", "strokeWidth": 1.3},
          "encoding": {
            "x": {"field": "xlo", "type": "quantitative",
                  "axis": {"orient": "bottom", "values": [10,11,13,14,16,17,19,20,22,23,25,26], "tickSize": -8, "labels": false, "title": null}},
            "x2": {"field": "xhi"},
            "y": {"field": "chi", "type": "quantitative", "axis": null},
            "color": {"field": "src", "type": "nominal"}
          }
        },
        {
          "data": {"name": "res"},
          "mark": {"type": "circle", "size": 10, "opacity": 1},
          "encoding": {
            "x": {"field": "x", "type": "quantitative", "axis": null},
            "y": {"field": "chi", "type": "quantitative", "axis": null},
            "color": {"field": "src", "type": "nominal"}
          }
        }
      ]
    }
  ]
}
